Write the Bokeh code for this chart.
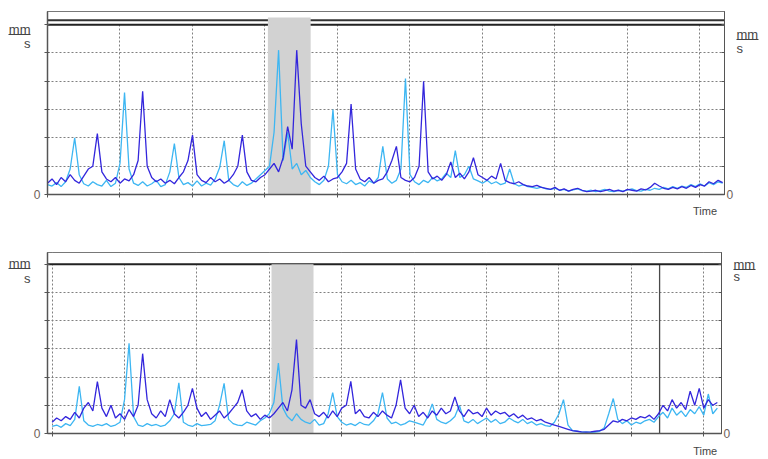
import numpy as np
from bokeh.plotting import figure
from bokeh.models import Range1d, FixedTicker, LinearAxis, BoxAnnotation, Span
from bokeh.layouts import column
from bokeh.embed import file_html
from bokeh.resources import INLINE

# ---------------- data (time in grid divisions, velocity in mm/s) ----------------
STEP = 0.0625

p1_light = [
    0.35, 0.30, 0.42, 0.28, 0.45, 0.90, 2.00, 0.70, 0.38, 0.30,
    0.45, 0.35, 0.30, 0.50, 0.28, 0.40, 1.10, 3.60, 0.90, 0.40,
    0.32, 0.45, 0.30, 0.38, 0.50, 0.28, 0.35, 0.80, 1.80, 0.60,
    0.35, 0.42, 0.30, 0.48, 0.30, 0.40, 0.33, 0.55, 0.95, 1.90,
    0.50, 0.35, 0.28, 0.45, 0.32, 0.40, 0.55, 0.70, 0.85, 1.00,
    2.20, 5.10, 1.20, 2.20, 0.90, 1.10, 0.70, 0.85, 0.60, 0.45,
    0.35, 0.50, 1.00, 3.00, 0.70, 0.45, 0.38, 0.50, 0.35, 0.42,
    0.30, 0.48, 0.40, 0.60, 1.70, 0.55, 0.40, 0.50, 0.90, 4.10,
    0.70, 0.45, 0.35, 0.50, 0.42, 0.60, 0.48, 0.55, 0.75, 0.60,
    1.55, 0.60, 0.70, 1.00, 0.55, 0.48, 0.40, 0.50, 0.38, 0.45,
    0.35, 0.40, 0.90, 0.38, 0.30, 0.35, 0.28, 0.25, 0.22, 0.26,
    0.20, 0.18, 0.22, 0.15, 0.18, 0.12, 0.16, 0.20, 0.14, 0.12,
    0.15, 0.10, 0.14, 0.18, 0.12, 0.10, 0.15, 0.12, 0.16, 0.20,
    0.14, 0.12, 0.18, 0.15, 0.22, 0.18, 0.25, 0.20, 0.28, 0.22,
    0.30, 0.25, 0.35, 0.28, 0.38, 0.30, 0.42, 0.35, 0.45, 0.40,
]
p1_dark = [
    0.40, 0.55, 0.35, 0.60, 0.45, 0.70, 0.50, 0.40, 0.65, 0.90,
    1.00, 2.15, 0.80, 0.55, 0.45, 0.60, 0.40, 0.55, 0.48, 0.70,
    1.20, 3.65, 1.00, 0.60, 0.45, 0.55, 0.40, 0.50, 0.38, 0.60,
    0.80, 1.20, 2.10, 0.70, 0.50, 0.42, 0.60, 0.45, 0.55, 0.40,
    0.50, 0.70, 1.00, 2.10, 0.80, 0.50, 0.45, 0.60, 0.70, 0.90,
    1.10, 0.80, 1.30, 2.40, 1.60, 5.10, 2.50, 1.00, 0.80, 0.60,
    0.50, 0.65, 0.45, 0.55, 0.60, 0.80, 1.10, 3.20, 0.90, 0.55,
    0.45, 0.60, 0.40, 0.50, 0.55, 0.80, 1.20, 1.70, 0.60, 0.50,
    0.45, 0.60, 1.00, 4.00, 0.80, 0.55, 0.65, 0.50, 0.70, 1.15,
    0.60, 0.75, 0.55, 0.80, 1.30, 0.70, 0.60, 0.50, 0.65, 0.55,
    1.10, 0.50, 0.42, 0.38, 0.45, 0.35, 0.30, 0.28, 0.32, 0.25,
    0.22, 0.18, 0.25, 0.15, 0.20, 0.12, 0.18, 0.22, 0.15, 0.10,
    0.12, 0.15, 0.10, 0.14, 0.18, 0.12, 0.15, 0.10, 0.18, 0.15,
    0.12, 0.20, 0.16, 0.25, 0.40, 0.30, 0.22, 0.18, 0.25, 0.20,
    0.28, 0.22, 0.32, 0.25, 0.35, 0.30, 0.45, 0.38, 0.50, 0.42,
]
p2_light = [
    0.25, 0.30, 0.22, 0.35, 0.28, 0.50, 1.67, 0.45, 0.30, 0.25,
    0.32, 0.28, 0.35, 0.25, 0.30, 0.40, 1.20, 3.20, 0.60, 0.30,
    0.25, 0.35, 0.28, 0.32, 0.25, 0.30, 0.45, 0.70, 1.80, 0.40,
    0.30, 0.25, 0.35, 0.28, 0.30, 0.32, 0.45, 1.00, 1.78, 0.50,
    0.35, 0.30, 0.28, 0.40, 0.35, 0.30, 0.45, 0.55, 0.70, 1.10,
    2.50, 0.90, 0.60, 0.45, 0.70, 0.50, 0.40, 0.35, 0.50, 0.30,
    0.35, 0.70, 1.45, 0.60, 0.40, 0.30, 0.35, 0.28, 0.40, 0.32,
    0.30, 0.45, 0.70, 1.45, 0.55, 0.35, 0.40, 0.30, 0.35, 0.45,
    0.40, 0.35, 0.30, 0.60, 1.05, 0.50, 0.40, 0.35, 0.45, 0.60,
    1.00, 0.45, 0.38, 0.50, 0.35, 0.45, 0.55, 0.40, 0.50, 0.35,
    0.40, 0.55, 0.45, 0.38, 0.50, 0.35, 0.42, 0.30, 0.35, 0.28,
    0.25, 0.40, 0.70, 1.20, 0.30, 0.10, 0.08, 0.05, 0.06, 0.04,
    0.05, 0.08, 0.20, 0.70, 1.24, 0.50, 0.35, 0.45, 0.30, 0.40,
    0.35, 0.45, 0.50, 0.40, 0.60, 0.75, 0.55, 0.90, 0.65, 0.80,
    0.60, 0.85, 0.70, 0.95, 0.65, 1.40, 0.70, 0.90,
]
p2_dark = [
    0.40, 0.55, 0.45, 0.60, 0.50, 0.75, 0.55, 0.90, 1.10, 0.80,
    1.84, 0.90, 0.60, 1.00, 0.55, 0.70, 0.50, 0.85, 0.60, 1.00,
    2.83, 1.20, 0.70, 0.55, 0.80, 0.60, 1.20, 0.70, 0.55, 0.75,
    1.00, 1.60, 0.90, 0.60, 0.75, 0.50, 0.65, 0.80, 0.55, 0.70,
    0.90, 1.10, 1.55, 0.80, 0.60, 0.70, 0.50, 0.65, 0.55, 0.70,
    0.90, 1.10, 0.80, 1.55, 3.33, 1.00, 0.90, 1.20, 0.70, 0.60,
    0.75, 0.55, 0.80, 0.60, 0.90, 1.00, 1.85, 0.70, 0.85, 0.60,
    0.55, 0.75, 0.60, 0.80, 0.65, 0.55, 1.00, 1.90, 0.90, 0.70,
    1.00, 0.60, 0.75, 0.55, 0.80, 0.65, 0.90, 0.70, 0.80, 1.30,
    0.80, 0.60, 0.85, 0.70, 0.75, 0.60, 0.90, 0.65, 0.80, 0.70,
    0.75, 0.60, 0.70, 0.55, 0.65, 0.50, 0.55, 0.45, 0.50, 0.40,
    0.35, 0.30, 0.25, 0.20, 0.15, 0.10, 0.08, 0.06, 0.05, 0.06,
    0.08, 0.10, 0.15, 0.30, 0.45, 0.40, 0.50, 0.45, 0.55, 0.50,
    0.60, 0.55, 0.65, 0.50, 0.70, 1.00, 0.80, 1.20, 0.90, 1.10,
    0.85, 1.50, 1.00, 1.60, 0.90, 1.20, 1.00, 1.10,
]

time_ticks = [0, 1, 2, 3, 4, 5, 6, 7, 8, 9]
value_ticks = [0, 1, 2, 3, 4, 5, 6]
band_1 = (3.04, 3.63)
band_2 = (3.03, 3.61)
cursor_2 = 8.39
unit_text = ("mm", "s")
time_text = "Time"

LIGHT = "#3db6f2"
DARK = "#3326dc"
FONT = "Liberation Sans"
TXT = "#444444"
ZERO = "#6e6058"


def style_text(ax, size="12px", color=TXT):
    ax.major_label_text_font = FONT
    ax.major_label_text_font_size = size
    ax.major_label_text_color = color


def unit_axis(p, side, pos):
    y_mm, y_bar, y_s = pos
    ax = LinearAxis(ticker=FixedTicker(ticks=[y_mm, y_s], minor_ticks=[y_bar]))
    ax.major_label_overrides = {y_mm: unit_text[0], y_s: unit_text[1]}
    ax.axis_line_color = None
    ax.major_tick_line_color = None
    ax.major_tick_in = 0
    ax.major_tick_out = 0
    ax.minor_tick_line_color = TXT
    ax.minor_tick_line_width = 1
    ax.minor_tick_in = 0
    ax.minor_tick_out = 22
    ax.major_label_standoff = -22
    style_text(ax, "13px")
    p.add_layout(ax, side)


def panel(light, dark, x_range, y_end, fw, fh, bl, br, bt, bb, band, band_top,
          double_top, cursor, left_unit, right_unit, time_pos, time_standoff):
    x = np.arange(len(light)) * STEP
    p = figure(frame_width=fw, frame_height=fh, x_range=Range1d(*x_range),
               y_range=Range1d(0, y_end), output_backend="svg",
               toolbar_location=None, min_border_left=bl, min_border_right=br,
               min_border_top=bt, min_border_bottom=bb, title=None)
    p.background_fill_color = "white"
    p.border_fill_color = "white"
    p.outline_line_color = "#444444"
    p.outline_line_width = 1

    p.xgrid.ticker = FixedTicker(ticks=time_ticks)
    p.ygrid.ticker = FixedTicker(ticks=value_ticks)
    for g in (p.xgrid, p.ygrid):
        g.grid_line_color = "#808080"
        g.grid_line_dash = "2 2"
        g.grid_line_width = 1

    # bottom axis: tick marks at the grid, "Time" as the only label
    xa = p.xaxis[0]
    xa.ticker = FixedTicker(ticks=[time_pos], minor_ticks=time_ticks)
    xa.major_label_overrides = {time_pos: time_text}
    xa.axis_line_color = "#555555"
    xa.axis_line_width = 1.5
    xa.major_tick_line_color = None
    xa.major_tick_in = 0
    xa.major_tick_out = 0
    xa.minor_tick_line_color = "#555555"
    xa.minor_tick_in = 2
    xa.minor_tick_out = 3
    xa.major_label_standoff = time_standoff
    style_text(xa, "11px")

    ya = p.yaxis[0]
    ya.ticker = FixedTicker(ticks=value_ticks)
    ya.major_label_overrides = {t: "" for t in value_ticks if t != 0}
    ya.axis_line_color = "#555555"
    ya.axis_line_width = 1.5
    ya.major_tick_line_color = "#555555"
    ya.major_tick_in = 2
    ya.major_tick_out = 3
    ya.minor_tick_line_color = None
    ya.major_label_standoff = 4
    style_text(ya, "12px", ZERO)

    ra = LinearAxis(ticker=FixedTicker(ticks=value_ticks))
    ra.major_label_overrides = {t: "" for t in value_ticks if t != 0}
    ra.axis_line_color = "#555555"
    ra.axis_line_width = 1
    ra.major_tick_line_color = "#555555"
    ra.major_tick_in = 3
    ra.major_tick_out = 0
    ra.minor_tick_line_color = None
    ra.major_label_standoff = 2
    style_text(ra, "12px", ZERO)
    p.add_layout(ra, "right")

    unit_axis(p, "left", left_unit)
    unit_axis(p, "right", right_unit)

    if cursor is not None:
        p.add_layout(Span(location=cursor, dimension="height", line_color="#4a4a4a",
                          line_width=1.3, level="underlay"))
    # overview bar above the plot area
    p.add_layout(BoxAnnotation(bottom=6.0, fill_color="white", fill_alpha=1,
                               line_color="#9a9a9a", line_width=1, level="underlay"))
    p.add_layout(Span(location=6.0, dimension="width", line_color="#222222",
                      line_width=2, level="underlay"))
    if double_top:
        p.add_layout(Span(location=6.16, dimension="width", line_color="#333333",
                          line_width=2, level="underlay"))
    p.add_layout(BoxAnnotation(left=band[0], right=band[1], bottom=0, top=band_top,
                               fill_color="#d2d2d2", fill_alpha=1, line_color=None,
                               level="underlay"))

    p.line(x, light, line_color=LIGHT, line_width=1.3)
    p.line(x, dark, line_color=DARK, line_width=1.3)
    return p


p1 = panel(p1_light, p1_dark, (0, 9.338), 6.466, 677, 183, 45, 44, 11, 28,
           band_1, 6.25, True, None,
           (5.83, 5.65, 5.34), (5.65, 5.48, 5.16), 9.07, 7)
p2 = panel(p2_light, p2_dark, (-0.064, 9.245), 6.418, 674, 181, 47, 45, 30, 25,
           band_2, 6.0, False, cursor_2,
           (6.03, 5.85, 5.50), (5.99, 5.82, 5.57), 9.02, 8)

layout = column(p1, p2, spacing=0)
open("out.html", "w").write(file_html(layout, INLINE))
